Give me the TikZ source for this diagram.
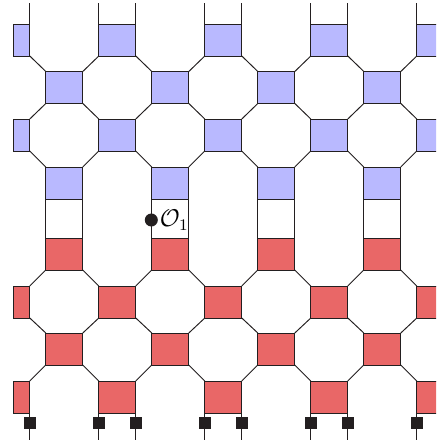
\documentclass[tikz,border=0pt]{standalone}
\usepackage{tikz}
\definecolor{lila}{HTML}{B9B9FF}
\definecolor{rojo}{HTML}{E96767}
\definecolor{tinta}{HTML}{231F20}

\begin{document}
\begin{tikzpicture}[x=0.02cm,y=-0.02cm]
  \tikzset{
    caja/.style={rectangle,draw=tinta,minimum width=37*0.02cm,minimum height=32*0.02cm,inner sep=0pt,outer sep=0pt,line width=0.55pt},
    borde/.style={caja,minimum width=16*0.02cm},
    puerta/.style={rectangle,fill=tinta,minimum size=11.5*0.02cm,inner sep=0pt,outer sep=0pt},
    punto/.style={circle,fill=tinta,minimum size=13*0.02cm,inner sep=0pt,outer sep=0pt},
    hilo/.style={draw=tinta,line width=0.55pt}
  }
  \path[use as bounding box,clip] (0,0) rectangle (436,445);
  \coordinate (arriba) at (0,3);
  \coordinate (abajo) at (0,440);
  % filas con bordes cortados
  \foreach \fila/\y/\col in {A/40/lila,C/135/lila,F/302/rojo,H/397/rojo}{
    \node[borde,fill=\col] (\fila0) at (21.8,\y) {};
    \foreach \i in {1,2,3,4}
      \node[caja,fill=\col] (\fila\i) at (11.3+106*\i,\y) {};
  }
  % filas intermedias
  \foreach \fila/\y/\col in {B/87.5/lila,D/183/lila,E/254/rojo,G/349/rojo}
    \foreach \i in {1,2,3,4}
      \node[caja,fill=\col] (\fila\i) at (-41.7+106*\i,\y) {};
  % diagonales
  \foreach \a/\b in {A/B,C/D,F/G}
    \foreach \ant/\i in {0/1,1/2,2/3,3/4}{
      \draw[hilo] (\a\ant.south east) -- (\b\i.north west);
      \draw[hilo] (\a\i.south west) -- (\b\i.north east);
    }
  \foreach \a/\b in {B/C,E/F,G/H}
    \foreach \ant/\i in {0/1,1/2,2/3,3/4}{
      \draw[hilo] (\a\i.south west) -- (\b\ant.north east);
      \draw[hilo] (\a\i.south east) -- (\b\i.north west);
    }
  % tramo central y salidas
  \foreach \i in {1,2,3,4}{
    \draw[hilo] (D\i.south west) -- (E\i.north west);
    \draw[hilo] (D\i.south east) -- (E\i.north east);
  }
  \draw[hilo] (A0.north east) -- (A0.north east |- arriba);
  \node[puerta] (q0) at (29.8,423) {};
  \draw[hilo] (H0.south east) -- (q0) -- (q0 |- abajo);
  \foreach \i in {1,2,3}{
    \draw[hilo] (A\i.north west) -- (A\i.north west |- arriba);
    \draw[hilo] (A\i.north east) -- (A\i.north east |- arriba);
    \node[puerta] (qw\i) at (H\i.south west |- q0) {};
    \node[puerta] (qe\i) at (H\i.south east |- q0) {};
    \draw[hilo] (H\i.south west) -- (qw\i) -- (qw\i |- abajo);
    \draw[hilo] (H\i.south east) -- (qe\i) -- (qe\i |- abajo);
  }
  \draw[hilo] (A4.north west) -- (A4.north west |- arriba);
  \node[puerta] (q4) at (H4.south west |- q0) {};
  \draw[hilo] (H4.south west) -- (q4) -- (q4 |- abajo);
  \node[punto] (o) at (151.3,220) {};
  \node[scale=1.15] (etiqueta) at (174.3,220) {\large$\mathcal{O}_1$};
\end{tikzpicture}
\end{document}
